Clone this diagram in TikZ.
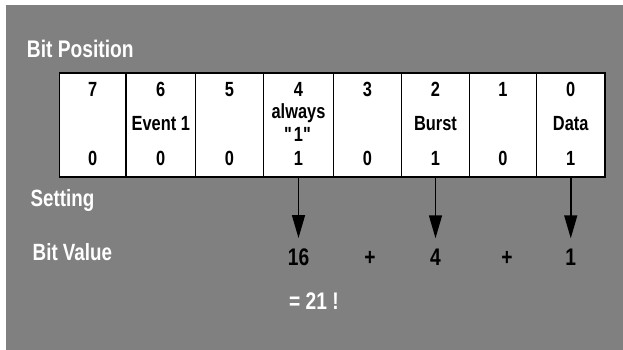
\documentclass[tikz,border=0pt]{standalone}
\usepackage{fontspec}
\setmainfont{Liberation Sans}[FakeStretch=0.8]
\usetikzlibrary{arrows.meta}
\definecolor{panel}{HTML}{808080}
\tikzset{
  cell/.style={draw=black, line width=1.6pt, fill=white, minimum height=104pt, inner sep=0pt},
  lbl/.style={text=white, font=\bfseries\fontsize{23.5}{27}\selectfont, anchor=base west, inner sep=0pt},
  ctext/.style={font=\bfseries\fontsize{20.5}{24}\selectfont, anchor=base, inner sep=0pt},
  val/.style={font=\bfseries\fontsize{24}{28}\selectfont, anchor=base, inner sep=0pt},
  bitarrow/.style={line width=1.5pt, -{Triangle[length=23pt,width=13pt]}, shorten >=10pt},
}
\begin{document}
\begin{tikzpicture}[x=1pt,y=-1pt]
  \useasboundingbox (0,0) rectangle (623,350);
  \fill[white] (0,0) rectangle (623,350);
  \fill[panel] (6,5) rectangle (623,350);

  % register cells, bit 7 (left) to bit 0 (right)
  \node[cell, minimum width=66.5pt] (c7) at (92.75,125) {};
  \node[cell, minimum width=69.5pt] (c6) at (160.75,125) {};
  \node[cell, minimum width=68pt]   (c5) at (229.5,125) {};
  \node[cell, minimum width=70pt]   (c4) at (298.5,125) {};
  \node[cell, minimum width=68pt]   (c3) at (367.5,125) {};
  \node[cell, minimum width=68pt]   (c2) at (435.5,125) {};
  \node[cell, minimum width=67pt]   (c1) at (503,125) {};
  \node[cell, minimum width=68.5pt] (c0) at (570.75,125) {};

  % bit numbers
  \node[ctext] (n7) at (92.75,97) {7};
  \node[ctext] (n6) at (160.75,97) {6};
  \node[ctext] (n5) at (229.5,97) {5};
  \node[ctext] (n4) at (298.5,97) {4};
  \node[ctext] (n3) at (367.5,97) {3};
  \node[ctext] (n2) at (435.5,97) {2};
  \node[ctext] (n1) at (503,97) {1};
  \node[ctext] (n0) at (570.75,97) {0};

  % bit names
  \node[ctext] (m6) at (160.75,131) {Event 1};
  \node[ctext] (m4a) at (298.5,118) {always};
  \node[ctext] (m4b) at (298.5,141) {\textquotedbl1\textquotedbl};
  \node[ctext] (m2) at (435.5,131) {Burst};
  \node[ctext] (m0) at (570.75,131) {Data};

  % bit settings
  \node[ctext] (s7) at (92.75,165) {0};
  \node[ctext] (s6) at (160.75,165) {0};
  \node[ctext] (s5) at (229.5,165) {0};
  \node[ctext] (s4) at (298.5,165) {1};
  \node[ctext] (s3) at (367.5,165) {0};
  \node[ctext] (s2) at (435.5,165) {1};
  \node[ctext] (s1) at (503,165) {0};
  \node[ctext] (s0) at (570.75,165) {1};

  % row labels
  \node[lbl, font=\bfseries\fontsize{24}{28}\selectfont] (pos) at (26.7,57.7) {Bit Position};
  \node[lbl] (set) at (30.5,206.5) {Setting};
  \node[lbl] (bval) at (32.5,260) {Bit Value};

  % values of the set bits
  \node[val] (v4) at (298.5,265) {16};
  \node[val] (p1) at (370,265) {+};
  \node[val] (v2) at (435.5,265) {4};
  \node[val] (p2) at (507,265) {+};
  \node[val] (v0) at (570.75,265) {1};
  \node[val, text=white] (sum) at (314,309) {= 21 !};

  % arrows from set bits to their values
  \draw[bitarrow] (c4.south) -- (c4.south |- v4.north);
  \draw[bitarrow] (c2.south) -- (c2.south |- v2.north);
  \draw[bitarrow] (c0.south) -- (c0.south |- v0.north);
\end{tikzpicture}
\end{document}
